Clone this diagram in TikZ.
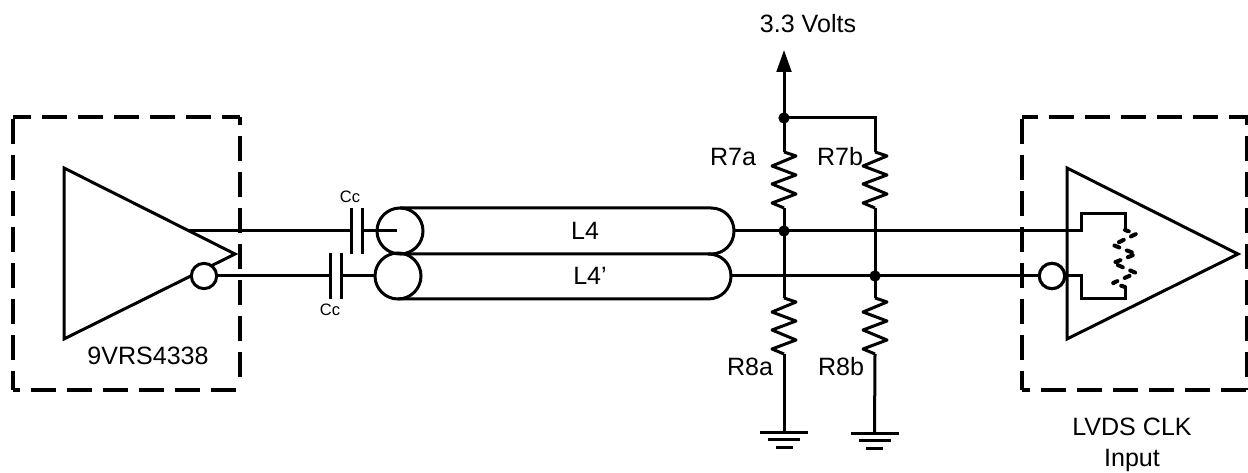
\documentclass[tikz,border=0pt]{standalone}
\usepackage{fontspec}
\setmainfont{Liberation Sans}
\usetikzlibrary{arrows.meta}
\newcommand{\lab}[1]{\fontsize{18.8pt}{22pt}\selectfont #1}
\tikzset{
  wire/.style={line width=2.25pt,line cap=butt,line join=miter},
  dbox/.style={line width=2.8pt,dash pattern=on 18.75pt off 8.25pt},
  bubble/.style={circle,draw,line width=2.25pt,fill=white,minimum size=19pt,inner sep=0pt},
  dot/.style={circle,fill=black,minimum size=8.5pt,inner sep=0pt},
  txt/.style={inner sep=0pt,font=\lab},
  small/.style={inner sep=0pt,font=\fontsize{12.4pt}{14pt}\selectfont},
  res/.pic={
    \coordinate (-top) at (0,0);
    \coordinate (-bot) at (0,56);
    \draw[wire,line join=round] (0,0)--(12,4)--(-12,14)--(12,23)--(-12,32)--(12,42)--(-12,51)--(0,56);
  },
  gnd/.pic={
    \coordinate (-top) at (0,0);
    \draw[wire] (-24,0)--(24,0) (-16,7.5)--(16,7.5) (-8.5,15)--(8.5,15);
  }
}
\begin{document}
\begin{tikzpicture}[x=0.75pt,y=-0.75pt]
\useasboundingbox (0,0) rectangle (1248,473);
% dashed device boxes
\draw[dbox,dash phase=5.25pt] (13,117)--(240,117);
\draw[dbox,dash phase=25.5pt] (13,117)--(13,390);
\draw[dbox,dash phase=12.75pt] (240,117)--(240,378);
\draw[dbox,dash phase=13.5pt] (13,390)--(240,390);
\draw[dbox,dash phase=6.75pt] (1022,117)--(1248,117);
\draw[dbox,dash phase=25.5pt] (1022,117)--(1022,390);
\draw[dbox,dash phase=12.75pt] (1247,117)--(1247,390);
\draw[dbox,dash phase=12.75pt] (1022,390)--(1248,390);
% amplifiers
\draw[wire,line join=miter] (64,168)--(235,254)--(64,339)--cycle;
\draw[wire,line join=miter] (1067,168)--(1238,254)--(1067,339)--cycle;
\node[bubble] (bl) at (204,276) {};
\node[bubble] (br) at (1052,276) {};
% named points
\coordinate (outT) at (189,231);
\coordinate (c1a) at (351,231);
\coordinate (c1b) at (362,231);
\coordinate (c2a) at (330,276);
\coordinate (c2b) at (341,276);
\coordinate (tubeT) at (397,231);
\coordinate (tubeB) at (375,276);
\coordinate (tubeTr) at (734,231);
\coordinate (tubeBr) at (731,276);
\coordinate (vcc) at (784,50);
\node[dot] (j0) at (784,118) {};
\node[dot] (j1) at (784,231) {};
\node[dot] (j2) at (875,276) {};
\coordinate (t1) at (1081,231);
\coordinate (t2) at (1081,276);
% capacitors
\draw[wire] (351,208)--(351,254) (362,208)--(362,254);
\draw[wire] (330,253)--(330,299) (341,253)--(341,299);
% signal wires
\draw[wire] (outT)--(c1a) (c1b)--(tubeT);
\draw[wire] (bl)--(c2a) (c2b)--(tubeB);
% twin lines
\draw[wire] (400,231) circle[radius=23];
\draw[wire] (398,276) circle[radius=23];
\draw[wire] (400,208)--(711,208) .. controls (724,208) and (734,218) .. (734,231) .. controls (734,244) and (724,254) .. (711,254) -- (400,254);
\draw[wire] (398,299)--(708,299) .. controls (721,299) and (731,289) .. (731,276) .. controls (731,263) and (721,254) .. (708,254);
\node[txt] (L4) at (585,231) {L4};
\node[txt] (L4p) at (590,276) {L4’};
% resistors
\pic (r7a) at (784,152) {res};
\pic (r7b) at (875,152) {res};
\pic (r8a) at (784,298) {res};
\pic (r8b) at (875,298) {res};
\pic (g1) at (784,432) {gnd};
\pic (g2) at (874.5,433) {gnd};
% rails
\draw[wire,-{Triangle[length=16.5pt,width=11pt]}] (j0.center)--(vcc);
\draw[wire] (j0.center)--(r7a-top);
\draw[wire] (j0.center)-|(r7b-top);
\draw[wire] (r7a-bot)--(r8a-top);
\draw[wire] (r7b-bot)--(r8b-top);
\draw[wire] (r8a-bot)--(g1-top);
\draw[wire] (r8b-bot)--(g2-top);
% line to receiver
\draw[wire] (tubeTr)--(t1)--(1081,214)--(1125,214)--(1125,230);
\draw[wire] (tubeBr)--(1039,276);
\draw[wire] (br)--(t2)--(1081,299)--(1125,299)--(1125,287);
\draw[line width=3pt,line cap=round,line join=round,dash pattern=on 4pt off 6pt,dash phase=1pt] (1125,230)--(1136,234)--(1113,245)--(1136,254)--(1113,263)--(1136,273)--(1113,283)--(1125,287);
\node[bubble] at (1052,276) {};
% labels
\node[txt] (v33) at (808,24) {3.3 Volts};
\node[txt] (ra) at (733,157) {R7a};
\node[txt] (rb) at (840,157) {R7b};
\node[txt] (rc) at (750,367) {R8a};
\node[txt] (rd) at (841,367) {R8b};
\node[txt] (dev) at (148,356) {9VRS4338};
\node[txt] (lv) at (1132,427) {LVDS CLK};
\node[txt] (in) at (1132,460) {Input};
\node[small] (cc1) at (350,197) {Cc};
\node[small] (cc2) at (330,310) {Cc};
\end{tikzpicture}
\end{document}
